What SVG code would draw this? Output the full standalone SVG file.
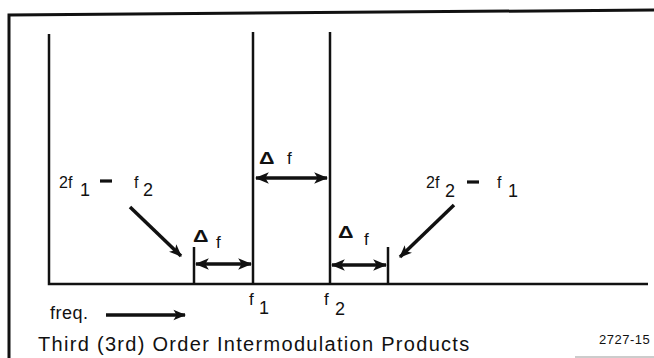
<svg xmlns="http://www.w3.org/2000/svg" width="654" height="358" viewBox="0 0 654 358">
<style>
text{font-family:"Liberation Sans",Arial,sans-serif;fill:#111}
.ln{stroke:#111;stroke-width:2.5;fill:none}
.fr{stroke:#111;stroke-width:3;fill:none}
.ar{stroke:#111;stroke-width:3.5;fill:none}
.sm{font-size:16px}
.sf{font-size:17px}
.sb{font-size:18px}
.dl{font-size:16px;font-weight:bold}
.dash{stroke:#111;stroke-width:3.2}
</style>
<defs>
<marker id="ah" viewBox="0 0 12 10" refX="11" refY="5" markerWidth="4" markerHeight="3.4" orient="auto-start-reverse" markerUnits="strokeWidth">
<path d="M0,0 L12,5 L0,10 L3,5 z" fill="#111"/>
</marker>
<marker id="ah2" viewBox="0 0 12 10" refX="11" refY="5" markerWidth="3.6" markerHeight="3.4" orient="auto" markerUnits="strokeWidth">
<path d="M0,0 L12,5 L0,10 L3,5 z" fill="#111"/>
</marker>
</defs>
<rect width="654" height="358" fill="#fff"/>
<g id="frame">
<path class="fr" d="M9,358 L9,15 L654,10"/>
<line x1="575" y1="357" x2="654" y2="357" stroke="#999" stroke-width="1"/>
</g>
<g id="axis">
<path class="ln" d="M49,34 L49,284 L648,284"/>
</g>
<g id="f1-line"><line class="ln" x1="253" y1="32" x2="253" y2="284"/></g>
<g id="f2-line"><line class="ln" x1="330" y1="32" x2="330" y2="284"/></g>
<g id="im-low"><line class="ln" x1="194" y1="247" x2="194" y2="284"/></g>
<g id="im-high"><line class="ln" x1="388" y1="247" x2="388" y2="284"/></g>
<g id="connectors">
<line class="ar" x1="256" y1="178" x2="327" y2="178" marker-start="url(#ah)" marker-end="url(#ah)"/>
<line class="ar" x1="196" y1="264" x2="251" y2="264" marker-start="url(#ah)" marker-end="url(#ah)"/>
<line class="ar" x1="332" y1="265" x2="386" y2="265" marker-start="url(#ah)" marker-end="url(#ah)"/>
<line class="ar" x1="130" y1="207" x2="181" y2="256" marker-end="url(#ah2)"/>
<line class="ar" x1="454" y1="205" x2="400" y2="257" marker-end="url(#ah2)"/>
<line class="ar" x1="106" y1="315" x2="185" y2="315" marker-end="url(#ah2)"/>
</g>
<g id="labels">
<text transform="translate(259,164) scale(1.35,1)" class="dl">Δ</text><text x="287" y="164" class="sf">f</text>
<text transform="translate(193,242) scale(1.35,1)" class="dl">Δ</text><text x="216" y="248" class="sf">f</text>
<text transform="translate(338,238) scale(1.35,1)" class="dl">Δ</text><text x="364" y="245" class="sf">f</text>
<text x="59" y="188" class="sm">2f</text><text x="80" y="196" class="sb">1</text>
<line class="dash" x1="100" y1="181" x2="112" y2="181"/>
<text x="134" y="188" class="sm">f</text><text x="143" y="196" class="sb">2</text>
<text x="426" y="188" class="sm">2f</text><text x="445" y="197" class="sb">2</text>
<line class="dash" x1="467" y1="182" x2="479" y2="182"/>
<text x="497" y="188" class="sm">f</text><text x="508" y="197" class="sb">1</text>
<text x="249" y="305" class="sf">f</text><text x="259" y="314" class="sb">1</text>
<text x="324" y="305" class="sf">f</text><text x="335" y="315" class="sb">2</text>
<text x="50" y="319" font-size="18" letter-spacing="0.5">freq.</text>
<text x="38" y="351" font-size="20" letter-spacing="1.3">Third (3rd) Order Intermodulation Products</text>
<text x="599" y="344" font-size="13" letter-spacing="0.5">2727-15</text>
</g>
</svg>
